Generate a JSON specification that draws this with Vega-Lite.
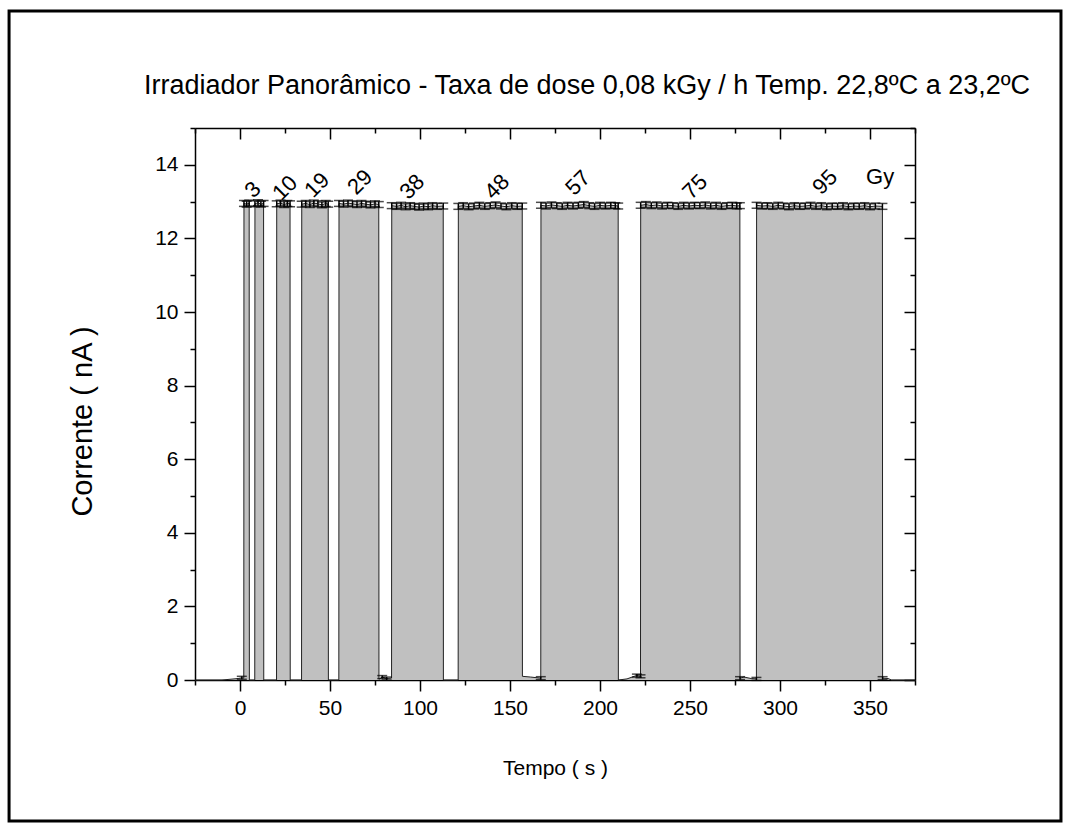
{
  "$schema": "https://vega.github.io/schema/vega-lite/v6.json",
  "width": 720,
  "height": 552,
  "autosize": {"type": "none"},
  "padding": {"left": 195, "top": 128, "right": 163, "bottom": 156},
  "background": "white",
  "title": {
    "text": "Irradiador Panorâmico - Taxa de dose 0,08 kGy / h Temp. 22,8ºC a 23,2ºC",
    "font": "Liberation Sans",
    "fontSize": 27,
    "fontWeight": "normal",
    "color": "black",
    "anchor": "middle",
    "frame": "group",
    "baseline": "bottom",
    "dx": 32,
    "offset": -118
  },
  "config": {
    "view": {"stroke": null},
    "axis": {
      "domainColor": "black",
      "domainWidth": 1.5,
      "tickColor": "black",
      "tickWidth": 1.5,
      "labelColor": "black",
      "titleColor": "black",
      "labelFont": "Liberation Sans",
      "titleFont": "Liberation Sans",
      "labelFontSize": 21,
      "titleFontSize": 21,
      "titleFontWeight": "normal",
      "grid": false
    },
    "text": {"font": "Liberation Sans", "color": "black"}
  },
  "datasets": {
    "serie": [
      {"t": -25, "I": 0, "e": 0},
      {"t": -10, "I": 0, "e": 0},
      {"t": -1, "I": 0.04, "e": 0},
      {"t": 1, "I": 0.06, "e": 0.04},
      {"t": 2.1, "I": 0.05, "e": 0},
      {"t": 2.2, "I": 12.95, "e": 0.08},
      {"t": 3.7, "I": 12.93, "e": 0.08},
      {"t": 5.1, "I": 12.96, "e": 0.08},
      {"t": 5.2, "I": 0, "e": 0},
      {"t": 8.2, "I": 0, "e": 0},
      {"t": 8.3, "I": 12.94, "e": 0.08},
      {"t": 10.0, "I": 12.97, "e": 0.08},
      {"t": 11.6, "I": 12.93, "e": 0.08},
      {"t": 13.1, "I": 12.95, "e": 0.08},
      {"t": 13.2, "I": 0, "e": 0},
      {"t": 20.3, "I": 0, "e": 0},
      {"t": 20.4, "I": 12.94, "e": 0.08},
      {"t": 22.5, "I": 12.96, "e": 0.08},
      {"t": 24.5, "I": 12.92, "e": 0.08},
      {"t": 26.3, "I": 12.95, "e": 0.08},
      {"t": 27.8, "I": 12.94, "e": 0.08},
      {"t": 27.9, "I": 0, "e": 0},
      {"t": 34.2, "I": 0, "e": 0},
      {"t": 34.3, "I": 12.93, "e": 0.08},
      {"t": 36.5, "I": 12.95, "e": 0.08},
      {"t": 38.8, "I": 12.92, "e": 0.08},
      {"t": 41.0, "I": 12.96, "e": 0.08},
      {"t": 43.3, "I": 12.94, "e": 0.08},
      {"t": 45.5, "I": 12.91, "e": 0.08},
      {"t": 47.6, "I": 12.95, "e": 0.08},
      {"t": 49.0, "I": 12.93, "e": 0.08},
      {"t": 49.1, "I": 0, "e": 0},
      {"t": 54.9, "I": 0, "e": 0},
      {"t": 55.0, "I": 12.95, "e": 0.08},
      {"t": 57.5, "I": 12.93, "e": 0.08},
      {"t": 60.0, "I": 12.96, "e": 0.08},
      {"t": 62.5, "I": 12.94, "e": 0.08},
      {"t": 65.0, "I": 12.92, "e": 0.08},
      {"t": 67.5, "I": 12.95, "e": 0.08},
      {"t": 70.0, "I": 12.93, "e": 0.08},
      {"t": 72.5, "I": 12.91, "e": 0.08},
      {"t": 75.0, "I": 12.94, "e": 0.08},
      {"t": 77.1, "I": 12.92, "e": 0.08},
      {"t": 77.2, "I": 0.02, "e": 0},
      {"t": 79.0, "I": 0.08, "e": 0.04},
      {"t": 81.5, "I": 0.04, "e": 0.04},
      {"t": 84.2, "I": 0.05, "e": 0},
      {"t": 84.3, "I": 12.89, "e": 0.08},
      {"t": 87.0, "I": 12.87, "e": 0.08},
      {"t": 89.5, "I": 12.90, "e": 0.08},
      {"t": 92.0, "I": 12.86, "e": 0.08},
      {"t": 94.5, "I": 12.89, "e": 0.08},
      {"t": 97.0, "I": 12.87, "e": 0.08},
      {"t": 99.5, "I": 12.85, "e": 0.08},
      {"t": 102.0, "I": 12.88, "e": 0.08},
      {"t": 104.5, "I": 12.86, "e": 0.08},
      {"t": 107.0, "I": 12.89, "e": 0.08},
      {"t": 109.5, "I": 12.87, "e": 0.08},
      {"t": 112.9, "I": 12.88, "e": 0.08},
      {"t": 113.0, "I": 0, "e": 0},
      {"t": 121.2, "I": 0, "e": 0},
      {"t": 121.3, "I": 12.87, "e": 0.08},
      {"t": 124.0, "I": 12.89, "e": 0.08},
      {"t": 127.0, "I": 12.86, "e": 0.08},
      {"t": 130.0, "I": 12.88, "e": 0.08},
      {"t": 133.0, "I": 12.90, "e": 0.08},
      {"t": 136.0, "I": 12.87, "e": 0.08},
      {"t": 139.0, "I": 12.89, "e": 0.08},
      {"t": 142.0, "I": 12.91, "e": 0.08},
      {"t": 145.0, "I": 12.88, "e": 0.08},
      {"t": 148.0, "I": 12.86, "e": 0.08},
      {"t": 151.0, "I": 12.89, "e": 0.08},
      {"t": 154.0, "I": 12.87, "e": 0.08},
      {"t": 156.8, "I": 12.88, "e": 0.08},
      {"t": 156.9, "I": 0.1, "e": 0},
      {"t": 161.5, "I": 0.08, "e": 0},
      {"t": 167.1, "I": 0.05, "e": 0.04},
      {"t": 167.2, "I": 12.90, "e": 0.08},
      {"t": 170.0, "I": 12.88, "e": 0.08},
      {"t": 173.0, "I": 12.91, "e": 0.08},
      {"t": 176.0, "I": 12.89, "e": 0.08},
      {"t": 179.0, "I": 12.87, "e": 0.08},
      {"t": 182.0, "I": 12.90, "e": 0.08},
      {"t": 185.0, "I": 12.88, "e": 0.08},
      {"t": 188.0, "I": 12.90, "e": 0.08},
      {"t": 191.0, "I": 12.92, "e": 0.08},
      {"t": 194.0, "I": 12.89, "e": 0.08},
      {"t": 197.0, "I": 12.87, "e": 0.08},
      {"t": 200.0, "I": 12.90, "e": 0.08},
      {"t": 203.0, "I": 12.88, "e": 0.08},
      {"t": 206.0, "I": 12.90, "e": 0.08},
      {"t": 208.5, "I": 12.89, "e": 0.08},
      {"t": 210.1, "I": 12.88, "e": 0.08},
      {"t": 210.2, "I": 0, "e": 0},
      {"t": 215.0, "I": 0.03, "e": 0},
      {"t": 219.0, "I": 0.1, "e": 0},
      {"t": 220.5, "I": 0.12, "e": 0.04},
      {"t": 222.5, "I": 0.1, "e": 0.04},
      {"t": 222.6, "I": 12.90, "e": 0.08},
      {"t": 225.5, "I": 12.92, "e": 0.08},
      {"t": 228.5, "I": 12.89, "e": 0.08},
      {"t": 231.5, "I": 12.91, "e": 0.08},
      {"t": 234.5, "I": 12.88, "e": 0.08},
      {"t": 237.5, "I": 12.90, "e": 0.08},
      {"t": 240.5, "I": 12.89, "e": 0.08},
      {"t": 243.5, "I": 12.87, "e": 0.08},
      {"t": 246.5, "I": 12.90, "e": 0.08},
      {"t": 249.5, "I": 12.88, "e": 0.08},
      {"t": 252.5, "I": 12.90, "e": 0.08},
      {"t": 255.5, "I": 12.89, "e": 0.08},
      {"t": 258.5, "I": 12.91, "e": 0.08},
      {"t": 261.5, "I": 12.88, "e": 0.08},
      {"t": 264.5, "I": 12.90, "e": 0.08},
      {"t": 267.5, "I": 12.87, "e": 0.08},
      {"t": 270.5, "I": 12.89, "e": 0.08},
      {"t": 273.5, "I": 12.90, "e": 0.08},
      {"t": 276.0, "I": 12.88, "e": 0.08},
      {"t": 277.7, "I": 12.89, "e": 0.08},
      {"t": 277.8, "I": 0.05, "e": 0.04},
      {"t": 280.0, "I": 0.08, "e": 0},
      {"t": 284.0, "I": 0.04, "e": 0},
      {"t": 286.9, "I": 0.03, "e": 0.04},
      {"t": 287.0, "I": 12.90, "e": 0.08},
      {"t": 290.0, "I": 12.88, "e": 0.08},
      {"t": 293.0, "I": 12.89, "e": 0.08},
      {"t": 296.0, "I": 12.87, "e": 0.08},
      {"t": 299.0, "I": 12.90, "e": 0.08},
      {"t": 302.0, "I": 12.88, "e": 0.08},
      {"t": 305.0, "I": 12.86, "e": 0.08},
      {"t": 308.0, "I": 12.89, "e": 0.08},
      {"t": 311.0, "I": 12.87, "e": 0.08},
      {"t": 314.0, "I": 12.88, "e": 0.08},
      {"t": 317.0, "I": 12.90, "e": 0.08},
      {"t": 320.0, "I": 12.87, "e": 0.08},
      {"t": 323.0, "I": 12.89, "e": 0.08},
      {"t": 326.0, "I": 12.86, "e": 0.08},
      {"t": 329.0, "I": 12.88, "e": 0.08},
      {"t": 332.0, "I": 12.87, "e": 0.08},
      {"t": 335.0, "I": 12.89, "e": 0.08},
      {"t": 338.0, "I": 12.86, "e": 0.08},
      {"t": 341.0, "I": 12.88, "e": 0.08},
      {"t": 344.0, "I": 12.87, "e": 0.08},
      {"t": 347.0, "I": 12.89, "e": 0.08},
      {"t": 350.0, "I": 12.86, "e": 0.08},
      {"t": 353.0, "I": 12.88, "e": 0.08},
      {"t": 356.9, "I": 12.87, "e": 0.08},
      {"t": 357.0, "I": 0.05, "e": 0.04},
      {"t": 360.0, "I": 0.04, "e": 0},
      {"t": 362.0, "I": 0, "e": 0},
      {"t": 375.0, "I": 0, "e": 0}
    ],
    "doses": [
      {"t": 7.2, "y": 13.32, "label": "3"},
      {"t": 25.0, "y": 13.37, "label": "10"},
      {"t": 42.8, "y": 13.45, "label": "19"},
      {"t": 66.7, "y": 13.53, "label": "29"},
      {"t": 95.6, "y": 13.40, "label": "38"},
      {"t": 142.8, "y": 13.40, "label": "48"},
      {"t": 187.8, "y": 13.51, "label": "57"},
      {"t": 252.8, "y": 13.40, "label": "75"},
      {"t": 325.0, "y": 13.53, "label": "95"}
    ],
    "unit": [
      {"t": 355.6, "y": 13.67, "label": "Gy"}
    ]
  },
  "layer": [
    {
      "data": {"name": "serie"},
      "mark": {"type": "area", "color": "#c0c0c0", "opacity": 1},
      "encoding": {
        "x": {
          "field": "t", "type": "quantitative",
          "scale": {"domain": [-25, 375], "nice": false, "zero": false},
          "axis": {
            "orient": "bottom",
            "values": [0, 50, 100, 150, 200, 250, 300, 350],
            "tickSize": 11, "labelPadding": 6,
            "title": "Tempo ( s )", "titlePadding": 39
          }
        },
        "y": {
          "field": "I", "type": "quantitative",
          "scale": {"domain": [0, 15], "nice": false, "zero": false},
          "axis": {
            "orient": "left",
            "values": [0, 2, 4, 6, 8, 10, 12, 14],
            "tickSize": 11, "labelPadding": 6,
            "title": "Corrente ( nA )", "titlePadding": 57, "titleFontSize": 29, "titleY": 293
          }
        }
      }
    },
    {
      "data": {"name": "serie"},
      "mark": {"type": "line", "color": "#222222", "strokeWidth": 1},
      "encoding": {
        "x": {
          "field": "t", "type": "quantitative",
          "axis": {
            "orient": "top",
            "values": [0, 50, 100, 150, 200, 250, 300, 350],
            "tickSize": -11, "labels": false, "title": null
          }
        },
        "y": {
          "field": "I", "type": "quantitative",
          "axis": {
            "orient": "right",
            "values": [0, 2, 4, 6, 8, 10, 12, 14],
            "tickSize": -11, "labels": false, "title": null
          }
        }
      }
    },
    {
      "data": {"name": "serie"},
      "transform": [{"filter": "datum.e > 0"}],
      "mark": {
        "type": "errorbar",
        "color": "black",
        "thickness": 1.5,
        "ticks": {"size": 10, "color": "black", "thickness": 1.5}
      },
      "encoding": {
        "x": {"field": "t", "type": "quantitative", "axis": null},
        "y": {"field": "I", "type": "quantitative", "axis": null},
        "yError": {"field": "e"}
      }
    },
    {
      "data": {"name": "doses"},
      "mark": {"type": "text", "fontSize": 22, "angle": 315, "align": "center", "baseline": "middle"},
      "encoding": {
        "x": {
          "field": "t", "type": "quantitative",
          "axis": {
            "orient": "bottom",
            "values": [-25, 25, 75, 125, 175, 225, 275, 325, 375],
            "tickSize": 5, "labels": false, "domain": false, "title": null
          }
        },
        "y": {
          "field": "y", "type": "quantitative",
          "axis": {
            "orient": "left",
            "values": [1, 3, 5, 7, 9, 11, 13, 15],
            "tickSize": 5, "labels": false, "domain": false, "title": null
          }
        },
        "text": {"field": "label"}
      }
    },
    {
      "data": {"name": "unit"},
      "mark": {"type": "text", "fontSize": 22, "align": "center", "baseline": "middle"},
      "encoding": {
        "x": {
          "field": "t", "type": "quantitative",
          "axis": {
            "orient": "top",
            "values": [-25, 25, 75, 125, 175, 225, 275, 325, 375],
            "tickSize": -5, "labels": false, "domain": false, "title": null
          }
        },
        "y": {
          "field": "y", "type": "quantitative",
          "axis": {
            "orient": "right",
            "values": [1, 3, 5, 7, 9, 11, 13, 15],
            "tickSize": -5, "labels": false, "domain": false, "title": null
          }
        },
        "text": {"field": "label"}
      }
    },
    {
      "data": {"values": [{"frame": "outer"}]},
      "mark": {"type": "rect", "fill": null, "stroke": "black", "strokeWidth": 3, "clip": false},
      "encoding": {
        "x": {"datum": -128.3, "type": "quantitative", "axis": null},
        "x2": {"datum": 456.1},
        "y": {"datum": 18.18, "type": "quantitative", "axis": null},
        "y2": {"datum": -3.83}
      }
    }
  ],
  "resolve": {"axis": {"x": "independent", "y": "independent"}}
}
